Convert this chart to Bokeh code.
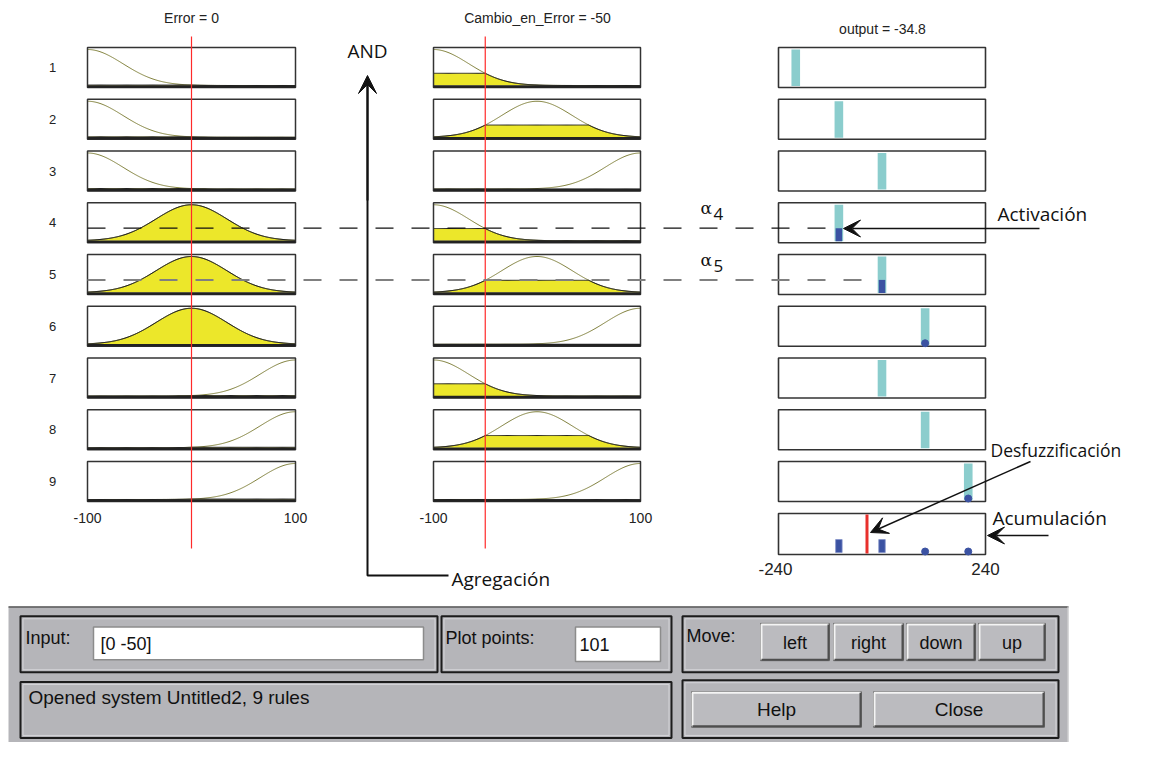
import numpy as np
from bokeh.plotting import figure
from bokeh.models import Range1d, Arrow, VeeHead
from bokeh.core.properties import value
from bokeh.embed import file_html
from bokeh.resources import INLINE

# ---------------- data ----------------
input_names = ["Error", "Cambio_en_Error"]
input_values = [0, -50]
input_range = [-100, 100]
input_tick_labels = ["-100", "100"]
output_name = "output"
output_value = -34.8
output_range = [-240, 240]
output_tick_labels = ["-240", "240"]
mf_centers = [-100, 0, 100]          # gaussian MFs: NEG, ZERO, POS
mf_sigma = 34.0
rule_labels = ["1", "2", "3", "4", "5", "6", "7", "8", "9"]
rule_error_mf = [0, 0, 0, 1, 1, 1, 2, 2, 2]
rule_cambio_mf = [0, 1, 2, 0, 1, 2, 0, 1, 2]
rule_output = [-200, -100, 0, -100, 0, 100, 0, 100, 200]
rule_activation = [0, 0, 0, 0.35, 0.35, 0.02, 0, 0, 0.02]
agg_output = [-200, -100, 0, 100, 200]
agg_activation = [0.0, 0.35, 0.35, 0.02, 0.02]
alpha_rows = [4, 5]
gui_input_text = "[0 -50]"
gui_plot_points = "101"
gui_status = "Opened system Untitled2, 9 rules"
gui_move_buttons = ["left", "right", "down", "up"]
gui_buttons = ["Help", "Close"]

# ---------------- layout ----------------
COLS = [(87, 295), (433, 640), (778, 985)]
ROW_TOP0, ROW_PITCH, ROW_H = 47.0, 51.75, 40.0
AGG_TOP, AGG_H = 513.0, 41.0
YEL = "#ece72a"
CYAN = "#8bcdcd"
BLUE = "#3b52a2"
OLIVE = "#80803c"
RED = "#ff2a2a"
GUI_BG = "#b5b5b9"
ARIAL = value("Liberation Sans")
MYR = value("Open Sans")
W, H = 1133, 742


def xmap(v, col, rng):
    l, r = COLS[col]
    return l + (np.asarray(v, dtype=float) - rng[0]) / (rng[1] - rng[0]) * (r - l)


def ymap(u, top, h):
    return top + h - 2.0 - np.asarray(u, dtype=float) * (h - 4.0)


def gauss(x, c):
    return np.exp(-(np.asarray(x, dtype=float) - c) ** 2 / (2 * mf_sigma ** 2))


def gy(y):
    # GUI strip: squeeze 606..758 into 606..741 so it fits the page
    return 606 + (y - 606) * (135.0 / 152.0)


p = figure(width=W, height=H, output_backend="svg", toolbar_location=None,
           x_range=Range1d(0, W), y_range=Range1d(H, 0), min_border=0)
p.axis.visible = False
p.grid.visible = False
p.outline_line_color = None
p.background_fill_color = "white"


def box(l, r, t, b, fill="white", line="#333333", lw=1.5):
    p.quad(left=[l], right=[r], top=[t], bottom=[b], fill_color=fill, line_color=line, line_width=lw)


xs = np.linspace(input_range[0], input_range[1], 201)

# ---------------- rule rows ----------------
for i in range(9):
    top = ROW_TOP0 + i * ROW_PITCH
    bot = top + ROW_H
    for c, mfi in enumerate([rule_error_mf[i], rule_cambio_mf[i]]):
        l, r = COLS[c]
        box(l, r, top, bot, fill="white", line=None)
        mu = gauss(xs, mf_centers[mfi])
        level = float(gauss(input_values[c], mf_centers[mfi]))
        clip = np.minimum(mu, level)
        px = xmap(xs, c, input_range)
        py = ymap(clip, top, ROW_H)
        y0 = float(ymap(0, top, ROW_H))
        p.patch(list(px) + [px[-1], px[0]], list(py) + [y0, y0], fill_color=YEL, line_color=None)
        p.line(px, ymap(mu, top, ROW_H), line_color=OLIVE, line_width=1)
        p.line(px, py, line_color="#202020", line_width=1)
        box(l, r, top, bot, fill=None, line="#333333", lw=1.5)
        p.line([l, r], [bot - 1, bot - 1], line_color="#222222", line_width=2.5)
    # output column
    l, r = COLS[2]
    box(l, r, top, bot, fill="white", line="#333333", lw=1.6)
    o = rule_output[i]
    p.quad(left=xmap(o - 10, 2, output_range), right=xmap(o + 10, 2, output_range),
           top=top + 2, bottom=bot - 1.5, fill_color=CYAN, line_color=None)
    a = rule_activation[i]
    if a >= 0.1:
        p.quad(left=xmap(o - 7.5, 2, output_range), right=xmap(o + 7.5, 2, output_range),
               top=ymap(a, top, ROW_H), bottom=bot - 1.5, fill_color=BLUE, line_color=None)
    elif a > 0:
        p.scatter(x=xmap(o, 2, output_range), y=bot - 3, size=7, fill_color=BLUE, line_color=BLUE)

# row labels
p.text(x=[52] * 9, y=[ROW_TOP0 + i * ROW_PITCH + ROW_H / 2 for i in range(9)], text=rule_labels,
       text_font=ARIAL, text_font_size="13px", text_align="center", text_baseline="middle",
       text_color="#222222")

# ---------------- aggregate ----------------
l, r = COLS[2]
box(l, r, AGG_TOP, AGG_TOP + AGG_H, fill="white", line="#333333", lw=1.6)
for o, a in zip(agg_output, agg_activation):
    if a >= 0.1:
        p.quad(left=xmap(o - 7.5, 2, output_range), right=xmap(o + 7.5, 2, output_range),
               top=ymap(a, AGG_TOP, AGG_H), bottom=AGG_TOP + AGG_H - 2, fill_color=BLUE,
               line_color="#8090c8", line_width=0.8)
    elif a > 0:
        p.scatter(x=xmap(o, 2, output_range), y=AGG_TOP + AGG_H - 3, size=7, fill_color=BLUE, line_color=BLUE)
xo = float(xmap(output_value, 2, output_range))
p.segment(x0=[xo], y0=[AGG_TOP + 1], x1=[xo], y1=[AGG_TOP + AGG_H - 1], line_color="#e8302c", line_width=3)

# ---------------- red input lines ----------------
for c in range(2):
    xv = float(xmap(input_values[c], c, input_range))
    p.segment(x0=[xv], y0=[36], x1=[xv], y1=[548], line_color=RED, line_width=1.2)

# ---------------- titles & ticks ----------------
p.text(x=[191, 537, 882], y=[17, 17, 28],
       text=[f"{input_names[0]} = {input_values[0]}", f"{input_names[1]} = {input_values[1]}",
             f"{output_name} = {output_value}"],
       text_font=ARIAL, text_font_size="14px", text_align="center", text_baseline="middle",
       text_color="#222222")
tx, tt = [], []
for c in range(2):
    tx += [float(xmap(input_range[0], c, input_range)), float(xmap(input_range[1], c, input_range))]
    tt += input_tick_labels
p.text(x=tx, y=[517] * 4, text=tt, text_font=ARIAL, text_font_size="14px", text_align="center",
       text_baseline="middle", text_color="#222222")
p.text(x=[float(xmap(output_range[0], 2, output_range)) - 3, float(xmap(output_range[1], 2, output_range))],
       y=[568, 568], text=output_tick_labels, text_font=ARIAL, text_font_size="17px",
       text_align="center", text_baseline="middle", text_color="#222222")

# ---------------- alpha dashed lines ----------------
for k, rr in enumerate(alpha_rows):
    top = ROW_TOP0 + (rr - 1) * ROW_PITCH
    yy = float(ymap(rule_activation[rr - 1], top, ROW_H))
    xend = float(xmap(rule_output[rr - 1] - 7.5, 2, output_range))
    col = "#111111" if k == 0 else "#808080"
    lw = 1.4 if k == 0 else 2
    p.line([87, xend], [yy, yy], line_color=col, line_width=lw, line_dash="18 18")
    p.text(x=[700], y=[top + 5], text=["α"], text_font=value("DejaVu Serif"), text_font_size="17px",
           text_align="left", text_baseline="middle", text_color="#111111")
    p.text(x=[713], y=[top + 11], text=[str(rr)], text_font=MYR, text_font_size="17px",
           text_align="left", text_baseline="middle", text_color="#111111")

# ---------------- annotations ----------------
p.text(x=[347], y=[50], text=["AND"], text_font=MYR, text_font_size="19px", text_align="left",
       text_baseline="middle", text_color="#111111")
p.line([367, 367, 448], [80, 575, 575], line_color="#111111", line_width=2)
p.add_layout(Arrow(end=VeeHead(size=18, fill_color="#111111", line_color="#111111"),
                   x_start=367, y_start=200, x_end=367, y_end=75, line_color="#111111", line_width=2))
p.text(x=[451], y=[578], text=["Agregación"], text_font=MYR, text_font_size="19px", text_align="left",
       text_baseline="middle", text_color="#111111")

p.add_layout(Arrow(end=VeeHead(size=17, fill_color="#111111", line_color="#111111"),
                   x_start=1039, y_start=228, x_end=843, y_end=228, line_color="#111111", line_width=1.5))
p.text(x=[997], y=[213], text=["Activación"], text_font=MYR, text_font_size="19px", text_align="left",
       text_baseline="middle", text_color="#111111")

p.add_layout(Arrow(end=VeeHead(size=17, fill_color="#111111", line_color="#111111"),
                   x_start=1030, y_start=461, x_end=870, y_end=532, line_color="#111111", line_width=1.5))
p.text(x=[990], y=[449], text=["Desfuzzificación"], text_font=MYR, text_font_size="17.5px",
       text_align="left", text_baseline="middle", text_color="#111111")

p.add_layout(Arrow(end=VeeHead(size=17, fill_color="#111111", line_color="#111111"),
                   x_start=1048, y_start=535, x_end=987, y_end=535, line_color="#111111", line_width=1.5))
p.text(x=[992], y=[517], text=["Acumulación"], text_font=MYR, text_font_size="19px", text_align="left",
       text_baseline="middle", text_color="#111111")

# ---------------- GUI panel ----------------
p.quad(left=[8], right=[1068], top=[606], bottom=[H + 2], fill_color=GUI_BG, line_color=None)
p.line([8, 1068], [606.5, 606.5], line_color="#5a5a5a", line_width=1.5)
p.line([1067.5, 1067.5], [606, H + 2], line_color="#d8d8d8", line_width=1)
frames = [(20, 437, 617, 680), (441, 671, 617, 680), (682, 1058, 617, 680),
          (20, 671, 691, 754), (682, 1058, 689, 754)]
for (l, r, t, b) in frames:
    box(l, r, gy(t), gy(b), fill=None, line="#1c1c1c", lw=2)
    box(l + 2.5, r - 2.5, gy(t) + 2.5, gy(b) - 2.5, fill=None, line="#d4d4d8", lw=1)
for (l, r, t, b) in [(93, 423, 629, 666), (575, 660, 629, 668)]:
    box(l, r, gy(t), gy(b), fill="white", line="#8c8c8c", lw=1.5)


def button(l, r, t, b):
    t, b = gy(t), gy(b)
    box(l, r, t, b, fill="#bbbbbf", line="#6a6a6a", lw=1)
    p.line([l + 1, l + 1, r - 1], [b - 1, t + 1, t + 1], line_color="#f4f4f4", line_width=2)
    p.line([l + 1, r - 1, r - 1], [b - 1, b - 1, t + 1], line_color="#4e4e4e", line_width=2)


move_boxes = [(760, 829, 625, 667), (833, 903, 625, 667), (906, 975, 625, 667), (978, 1045, 625, 667)]
for bb in move_boxes:
    button(*bb)
help_boxes = [(691, 861, 702, 742), (873, 1044, 702, 742)]
for bb in help_boxes:
    button(*bb)

p.text(x=[25, 445, 686], y=[gy(641), gy(641), gy(639)], text=["Input:", "Plot points:", "Move:"],
       text_font=ARIAL, text_font_size="18px", text_align="left", text_baseline="middle", text_color="#111111")
p.text(x=[100, 579], y=[gy(648), gy(649)], text=[gui_input_text, gui_plot_points], text_font=ARIAL,
       text_font_size="18px", text_align="left", text_baseline="middle", text_color="#111111")
p.text(x=[(b[0] + b[1]) / 2 for b in move_boxes], y=[gy(647)] * 4, text=gui_move_buttons, text_font=ARIAL,
       text_font_size="18px", text_align="center", text_baseline="middle", text_color="#111111")
p.text(x=[(b[0] + b[1]) / 2 for b in help_boxes], y=[gy(722)] * 2, text=gui_buttons, text_font=ARIAL,
       text_font_size="19px", text_align="center", text_baseline="middle", text_color="#111111")
p.text(x=[28], y=[gy(709)], text=[gui_status], text_font=ARIAL, text_font_size="19px", text_align="left",
       text_baseline="middle", text_color="#111111")

open("out.html", "w").write(file_html(p, INLINE))
